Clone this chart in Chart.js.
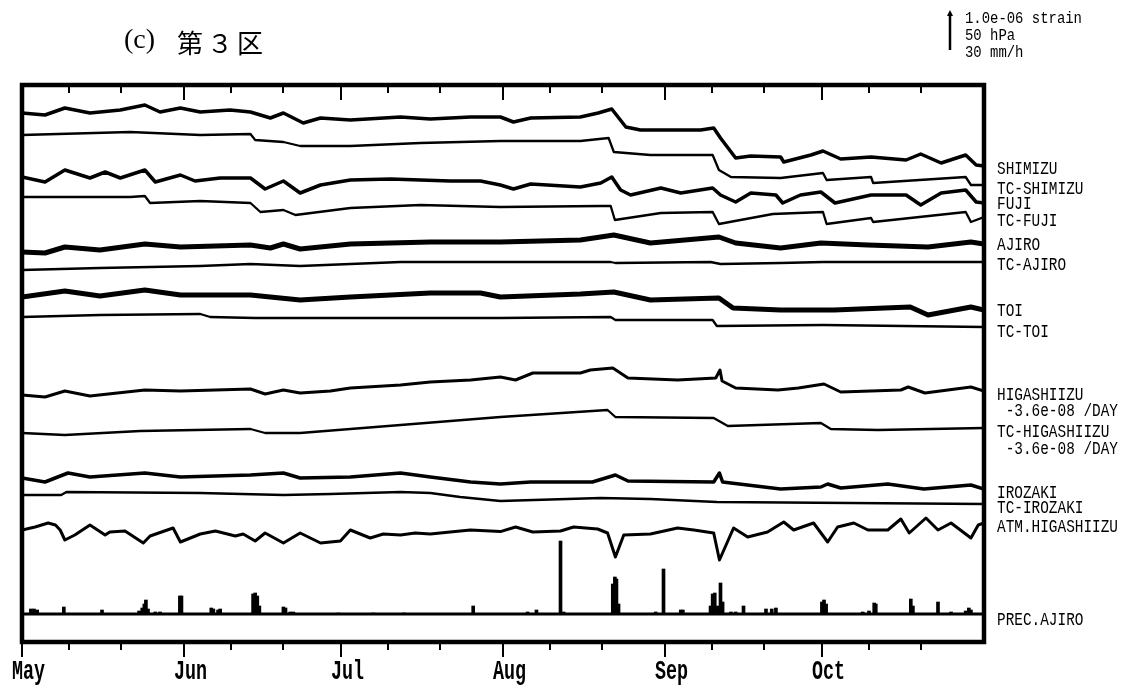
<!DOCTYPE html>
<html>
<head>
<meta charset="utf-8">
<title>第3区</title>
<script src="https://cdn.jsdelivr.net/npm/chart.js@4.4.1/dist/chart.umd.min.js"></script>
<style>
  html, body { margin: 0; padding: 0; background: #fff; }
  canvas { display: block; }
</style>
</head>
<body>
<canvas id="strainChart" width="1121" height="689"></canvas>
<script>
// x = days since May 1 (0) .. Nov 1 (184)
const monthNames = ["May", "Jun", "Jul", "Aug", "Sep", "Oct"];
const monthStartDays = [0, 31, 61, 92, 123, 153];
const minorTickDays = [9, 19, 40, 50, 70, 80, 101, 111, 132, 142, 162, 172];
const lastDay = 184;

// strain: [day, change from start in 1e-7 strain]
const shimizu = [[0,0],[4.4,-0.5],[8.2,1.25],[13,0],[18.8,0.75],[23.5,2],[26.4,0.25],[30.3,1.25],[34.1,0.25],[39.8,0.75],[43.7,0.25],[47.5,-1.25],[50,0],[53.8,-2.5],[57.1,-1.25],[62.8,-1.75],[72.4,-1],[78.1,-1.5],[85.8,-1],[91.5,-1],[94,-2.25],[97.3,-1.25],[106.8,-1],[110.2,0],[112.8,1],[115.5,-3.5],[118.3,-4.25],[129.8,-4.25],[132.3,-3.75],[133.6,-6.25],[136.5,-11.25],[139.4,-10.75],[145.1,-11],[145.7,-12.25],[150.9,-10.5],[153.2,-9.5],[156.6,-11.5],[162.4,-11],[169.1,-11.75],[171.9,-10.25],[175.8,-12.5],[180.5,-10.5],[182.5,-13],[184,-13.25]];
const tcShimizu = [[0,0],[20.7,0.75],[34.1,0],[43.7,0.25],[44.6,-1.25],[50,-1.75],[53.2,-2.75],[62.8,-2.75],[76.2,-2],[91.5,-1.5],[106.8,-1.5],[112.2,-0.75],[113.2,-4.25],[120.2,-5],[132.1,-5],[133.3,-8.75],[135.6,-10.5],[145.1,-10.75],[153.2,-9.5],[153.9,-11.25],[162.4,-10.5],[162.8,-12],[180.5,-10.5],[181.5,-12.5],[184,-12.5]];
const fuji = [[0,0],[4.4,-1.25],[8.2,1.75],[13,-0.25],[15.9,1.25],[18.8,-0.25],[23.5,1.75],[25.5,-1.25],[30.3,0.5],[33.1,-1],[37.9,-0.25],[43.7,-0.25],[46.5,-3],[50,-1],[53.2,-4],[57.1,-2],[62.8,-0.75],[70.5,-0.5],[76.2,-0.75],[81.9,-1],[87.7,-1],[91.5,-2],[94,-3],[97.3,-1.75],[106.8,-2.5],[110.7,-1.5],[112.8,0],[114.5,-3.25],[116.4,-4.5],[122.2,-2.75],[126,-4],[132.1,-2.75],[133.6,-4.5],[136.5,-6.25],[139.4,-4],[144.2,-4.5],[145.5,-6.5],[148.9,-4.5],[152.8,-3.75],[155.5,-6.5],[162.4,-4.5],[169.1,-4.5],[171.9,-7],[175.8,-4],[180.5,-3.25],[182.5,-6.25],[184,-6.5]];
const tcFuji = [[0,0],[20.7,0],[23.5,0.25],[24.5,-1.5],[34.1,-1],[43.7,-1.5],[45.6,-3.75],[50,-3.25],[52.3,-4.5],[62.8,-2.75],[76.2,-2],[91.5,-2.5],[110.7,-2.25],[112.6,-2.25],[113.4,-5.75],[122.2,-4],[132.1,-3.75],[133.3,-6.75],[143.6,-4.25],[153.2,-3.75],[153.9,-6.75],[162.4,-5.25],[162.8,-6.25],[180.5,-3.75],[181.5,-6.25],[184,-5]];
const ajiro = [[0,0],[4.4,-0.25],[8.2,1.25],[14.9,0.5],[23.5,2],[30.3,1.25],[43.7,1.75],[47.5,1],[50,2],[53.2,0.75],[62.8,2],[78.1,2.5],[91.5,2.5],[106.8,3],[113.2,4.25],[120.2,2.25],[133.3,3.75],[136.5,2.25],[145.1,1],[152.8,2.25],[161.8,1.75],[173.3,1.25],[181.5,2.5],[184,2]];
const tcAjiro = [[0,0],[14.9,0.5],[34.1,1],[43.7,1.5],[53.2,1],[72.4,2],[91.5,2],[112.6,2],[113.5,1.75],[131.7,2],[133.6,1.5],[145.1,1.75],[153.2,2],[184,2]];
const toi = [[0,0],[8.2,1.5],[14.9,0.25],[23.5,1.75],[30.3,0.5],[43.7,0.5],[53.2,-0.75],[62.8,0],[78.1,1],[87.7,1],[91.5,0],[106.8,0.75],[113.2,1.25],[120.2,-0.75],[133.3,-0.25],[136,-2.75],[145.1,-3.25],[155.3,-3.25],[169.9,-2.5],[173.3,-4.5],[181.5,-2.5],[184,-3.25]];
const tcToi = [[0,0],[14.9,0.5],[34.1,0.75],[36,0],[44.6,-0.25],[91.5,-0.25],[112.6,0],[113.5,-0.75],[132.1,-0.75],[132.9,-2.25],[153.2,-2],[184,-2.5]];
const higashiizu = [[0,0],[4.4,-0.5],[8.2,1],[13,-0.25],[23.5,1.25],[30.3,1],[43.7,1.5],[46.5,0.25],[50,1.25],[53.2,0.5],[59,1],[62.8,1.75],[72.4,2.5],[78.1,3.25],[85.8,3.75],[91.5,4.5],[94.4,3.75],[97.7,5.5],[106.8,5.5],[108.7,6.25],[113,6.75],[115.9,4.25],[125.4,3.75],[132.7,4.25],[133.5,6.25],[133.9,3.5],[136.5,1.75],[144.6,1.25],[148.5,1.75],[153.4,2.75],[156.6,0.75],[168.1,1.25],[169.5,2],[172.7,0.5],[181.5,2],[184,1]];
const tcHigashiizu = [[0,0],[8.2,-0.5],[22.6,0.5],[43.7,1],[46.5,0],[53.2,0],[72.4,2],[91.5,4],[112,5.75],[113.5,4],[132.3,3.75],[135,1.75],[152.8,2.5],[154.7,1],[163.7,0.75],[184,1.25]];
const irozaki = [[0,0],[4.4,-1],[8.8,1.25],[13,0.25],[23.5,1.25],[30.3,0.25],[43.7,0.75],[50,1.25],[53.2,0],[62.8,0.25],[72.4,1.25],[78.1,0.25],[85.8,-1],[91.5,-1.5],[97.3,-1],[109.1,-1],[113.5,0.75],[115.9,-0.75],[132.3,-1],[133.4,1.25],[134,-1],[145.1,-2.75],[152.8,-2.25],[154.1,-1.5],[156.6,-2.5],[165.6,-1.5],[172.5,-2.75],[181.5,-1.75],[184,-2.75]];
const tcIrozaki = [[0,0],[7.5,0],[8.5,0.75],[34.1,0.5],[50,0],[59,0.25],[72.4,0.75],[78.1,0.5],[83.8,-0.5],[91.5,-1.5],[110.7,-0.75],[120.2,-1],[132.9,-1.75],[184,-2.25]];

// atmospheric pressure: [day, change from start in hPa]
const atmHigashiizu = [[0,0],[2.5,3.75],[5,8.75],[6.4,6.25],[7.3,0],[8.2,-12.5],[10.1,-6.25],[13,6.25],[15.9,-6.25],[16.8,-2.5],[19.7,-1.25],[23.2,-16.25],[24.5,-7.5],[28.9,2.5],[30.3,-15],[34.1,-5],[37,-1.25],[40.8,-7.5],[42.3,-5],[44.6,-13.75],[46.5,-3.75],[50,-16.25],[53.2,-3.75],[57.1,-16.25],[60.9,-13.75],[62.8,0],[66.6,-10],[69.1,-5],[72.4,-6.25],[75.2,-3.75],[78.1,-5],[81.9,-2.5],[85.8,0],[91.5,-2],[94.4,3.75],[97.7,-2.5],[103,-1.25],[105.5,3.75],[110.1,1.25],[112,-3.75],[113.5,-33.75],[115.1,-6.25],[120.2,-5],[125.4,2.5],[128.5,0],[132.3,-3.75],[133.4,-37.5],[136.1,2.5],[138.8,-8.75],[142.6,-2.5],[145.7,10],[147.6,0],[151.4,8.75],[154.1,-15],[156,3.75],[159.1,8.75],[161.8,0],[165.6,0],[168.1,13.75],[169.7,-3.75],[172.9,15],[175.2,0],[177.7,8.75],[181.5,-10],[182.9,6.25],[184,8.75]];

// hourly precipitation at AJIRO: day and mm/h
const precDays = [1.7,2.3,2.9,8,15.3,22.4,23,23.4,23.7,24.1,25.5,26.4,30.2,30.5,36.2,36.6,37.5,37.9,44.2,44.6,45,45.4,50,50.4,51.3,51.9,60.5,67.2,73.1,86.3,96.7,98.4,103,103.6,113,113.4,113.7,114.1,121.2,122.7,126,126.4,131.7,132.1,132.5,133.1,133.6,134,135.6,136.5,138,142.3,143.4,144.2,153,153.4,153.8,160.8,162,163,163.3,170,170.4,175.2,177.7,180.5,181.1,181.5];
const precMm = [3.75,3.75,3,5.25,3,2.25,4.5,7.5,10.5,3.75,1.5,1.5,13.5,13.5,4.5,3.75,3,3.75,15,15.75,13.5,6,5.25,4.5,1.5,1.5,0.75,0.75,0.75,6,1.5,3,54.75,1.5,22.5,27.75,26.25,7.5,1.5,33.75,3,3,6,15,15.75,6,23.25,9,1.5,1.5,6,3.75,3.75,4.5,9,10.5,7.5,1.5,2.25,8.25,7.5,11.25,6,9,1.5,2.25,4.5,3];

// one display unit = 1e-7 strain; the scale bar is 10 units
const HPA_TO_UNIT = 10 / 50;
const MM_TO_UNIT = 10 / 30;

const traces = [
  { data: shimizu, base: 132.25, scale: 1, width: 3.5 },
  { data: tcShimizu, base: 126.75, scale: 1, width: 2.3 },
  { data: fuji, base: 116.25, scale: 1, width: 3.5 },
  { data: tcFuji, base: 111.25, scale: 1, width: 2.3 },
  { data: ajiro, base: 97.5, scale: 1, width: 5 },
  { data: tcAjiro, base: 93, scale: 1, width: 2.3 },
  { data: toi, base: 86.25, scale: 1, width: 5 },
  { data: tcToi, base: 81.25, scale: 1, width: 2.3 },
  { data: higashiizu, base: 61.75, scale: 1, width: 3 },
  { data: tcHigashiizu, base: 52.25, scale: 1, width: 2.3 },
  { data: irozaki, base: 41, scale: 1, width: 3.5 },
  { data: tcIrozaki, base: 36.75, scale: 1, width: 2.3 },
  { data: atmHigashiizu, base: 28, scale: HPA_TO_UNIT, width: 3 }
];
const precBase = 7;

const rightLabels = [
  ["SHIMIZU", 174], ["TC-SHIMIZU", 194], ["FUJI", 209], ["TC-FUJI", 226],
  ["AJIRO", 250], ["TC-AJIRO", 270], ["TOI", 316], ["TC-TOI", 337],
  ["HIGASHIIZU", 400], [" -3.6e-08 /DAY", 416], ["TC-HIGASHIIZU", 437], [" -3.6e-08 /DAY", 454],
  ["IROZAKI", 498], ["TC-IROZAKI", 513], ["ATM.HIGASHIIZU", 532], ["PREC.AJIRO", 625]
];

const datasets = traces.map(t => ({
  type: "line",
  data: t.data.map(([d, v]) => ({ x: d, y: t.base + v * t.scale })),
  borderColor: "#000",
  borderWidth: t.width,
  borderJoinStyle: "round",
  pointRadius: 0,
  tension: 0
}));

datasets.push({
  type: "line",
  data: [{ x: 0, y: precBase }, { x: lastDay, y: precBase }],
  borderColor: "#000",
  borderWidth: 3,
  pointRadius: 0
});

datasets.push({
  type: "bar",
  data: precDays.map((d, i) => ({ x: d, y: [precBase, precBase + precMm[i] * MM_TO_UNIT] })),
  backgroundColor: "#000",
  borderWidth: 0,
  barThickness: 3
});

function squeezedText(ctx, text, x, y, font, sx) {
  ctx.save();
  ctx.font = font;
  ctx.translate(x, y);
  ctx.scale(sx, 1);
  ctx.fillText(text, 0, 0);
  ctx.restore();
}

const frameAndNotes = {
  id: "frameAndNotes",
  afterDraw(chart) {
    const { ctx, chartArea: a } = chart;
    const xs = chart.scales.x, ys = chart.scales.y;
    ctx.save();
    ctx.strokeStyle = "#000";
    ctx.fillStyle = "#000";

    ctx.lineWidth = 4.5;
    ctx.strokeRect(a.left, a.top, a.right - a.left, a.bottom - a.top);

    ctx.lineWidth = 2;
    ctx.beginPath();
    monthStartDays.forEach(d => {
      const px = Math.round(xs.getPixelForValue(d));
      ctx.moveTo(px, a.bottom); ctx.lineTo(px, a.bottom + 15);
      ctx.moveTo(px, a.top); ctx.lineTo(px, a.top + 15);
    });
    minorTickDays.forEach(d => {
      const px = Math.round(xs.getPixelForValue(d));
      ctx.moveTo(px, a.bottom); ctx.lineTo(px, a.bottom + 8);
      ctx.moveTo(px, a.top); ctx.lineTo(px, a.top + 8);
    });
    ctx.stroke();

    ctx.textBaseline = "alphabetic";
    monthNames.forEach((m, i) => {
      const px = xs.getPixelForValue(monthStartDays[i]);
      squeezedText(ctx, m, px - 10, 679, 'bold 27px "Liberation Mono"', 0.68);
    });

    rightLabels.forEach(([t, yb]) => {
      squeezedText(ctx, t, a.right + 13, yb, '18px "Liberation Mono"', 0.8);
    });

    // scale bar: 1.0e-06 strain = 10 units
    const barLen = ys.getPixelForValue(0) - ys.getPixelForValue(10);
    const bx = 950, by = 50;
    ctx.lineWidth = 2.5;
    ctx.beginPath();
    ctx.moveTo(bx, by); ctx.lineTo(bx, by - barLen + 3);
    ctx.stroke();
    ctx.beginPath();
    ctx.moveTo(bx, by - barLen);
    ctx.lineTo(bx - 3, by - barLen + 6);
    ctx.lineTo(bx + 3, by - barLen + 6);
    ctx.closePath();
    ctx.fill();
    squeezedText(ctx, "1.0e-06 strain", 965, 23, '16px "Liberation Mono"', 0.87);
    squeezedText(ctx, "50 hPa", 965, 40, '16px "Liberation Mono"', 0.87);
    squeezedText(ctx, "30 mm/h", 965, 57, '16px "Liberation Mono"', 0.87);

    ctx.textBaseline = "middle";
    ctx.font = '28px "Liberation Serif"';
    ctx.fillText("(c)", 124, 41);
    ctx.font = '26px "Noto Sans CJK JP"';
    ctx.letterSpacing = "4px";
    ctx.fillText("第３区", 177, 43);
    ctx.restore();
  }
};

new Chart(document.getElementById("strainChart").getContext("2d"), {
  type: "line",
  data: { datasets: datasets },
  options: {
    responsive: false,
    animation: false,
    layout: { padding: { left: 22, right: 137, top: 85, bottom: 47 } },
    plugins: { legend: { display: false }, title: { display: false }, tooltip: { enabled: false } },
    scales: {
      x: { type: "linear", min: 0, max: lastDay, offset: false, display: false },
      y: { type: "linear", min: 0, max: 139.25, display: false }
    }
  },
  plugins: [frameAndNotes]
});
</script>
</body>
</html>
